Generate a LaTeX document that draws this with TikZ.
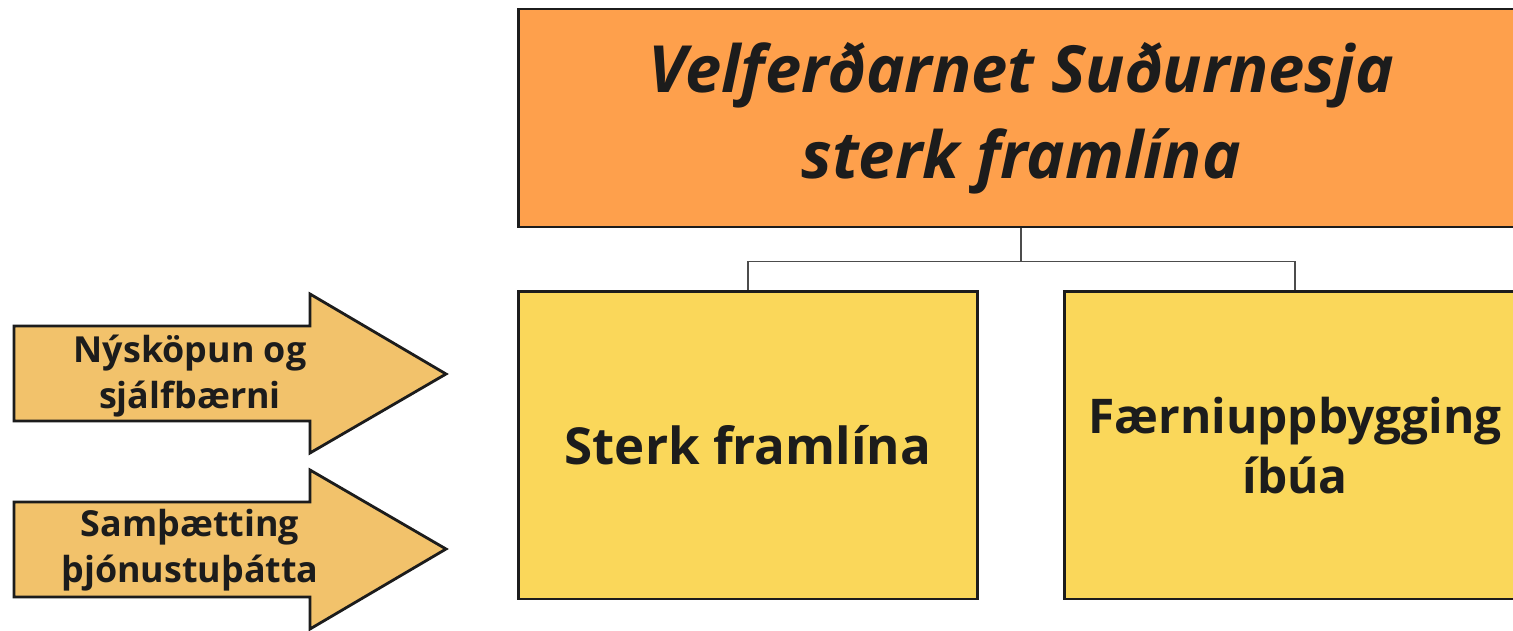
\documentclass[tikz,border=0pt]{standalone}
\usepackage{fontspec}
\setmainfont{Open Sans}
\usetikzlibrary{positioning}

\definecolor{titleorange}{RGB}{254,160,76}
\definecolor{boxyellow}{RGB}{250,215,90}
\definecolor{arrowgold}{RGB}{242,194,107}
\definecolor{inkdark}{RGB}{28,28,28}

\begin{document}
\begin{tikzpicture}[x=0.01cm, y=-0.01cm,
    every node/.style={text=inkdark, font=\bfseries, align=center},
    titlebox/.style={draw=inkdark, line width=0.8pt, fill=titleorange,
      minimum width=10.04cm, minimum height=2.18cm,
      font=\fontsize{18.5}{24.5}\selectfont\bfseries\itshape},
    pillarbox/.style={draw=inkdark, line width=0.8pt, fill=boxyellow,
      inner sep=0pt, minimum height=3.07cm,
      font=\fontsize{14.5}{17.5}\selectfont\bfseries},
    arrowtext/.style={font=\fontsize{10.2}{13}\selectfont\bfseries},
    link/.style={draw=gray!60!black, line width=0.5pt}]
    % Ramminn
    \clip (0,0) rectangle (1513,631);
    \fill[white] (0,0) rectangle (1513,631);

    % Yfirkassi
    \node[titlebox] (net) at (1021,118)
      {Velferðarnet Suðurnesja\\sterk framlína};

    % Stoðirnar
    \node[pillarbox, minimum width=4.58cm] (sterk) at (748,445.5)
      {Sterk framlína};
    \node[pillarbox, minimum width=4.60cm,
      font=\fontsize{13.6}{17}\selectfont\bfseries] (faerni) at (1295,445.5)
      {Færniuppbygging\\íbúa};

    % Tengilínur
    \draw[link] (net.south) -- ++(0,33) coordinate (mid);
    \draw[link] (mid) -| (sterk.north);
    \draw[link] (mid) -| (faerni.north);

    % Örvar til vinstri
    \draw[draw=inkdark, line width=0.8pt, fill=arrowgold]
      (14,326) -- (310,326) -- (310,294) -- (446,374)
      -- (310,453) -- (310,421) -- (14,421) -- cycle;
    \node[arrowtext] (nys) at (190,376) {Nýsköpun og\\sjálfbærni};

    \draw[draw=inkdark, line width=0.8pt, fill=arrowgold]
      (14,502) -- (310,502) -- (310,470) -- (446,549)
      -- (310,629) -- (310,597) -- (14,597) -- cycle;
    \node[arrowtext] (sam) at (190,550) {Samþætting\\þjónustuþátta};
\end{tikzpicture}
\end{document}
